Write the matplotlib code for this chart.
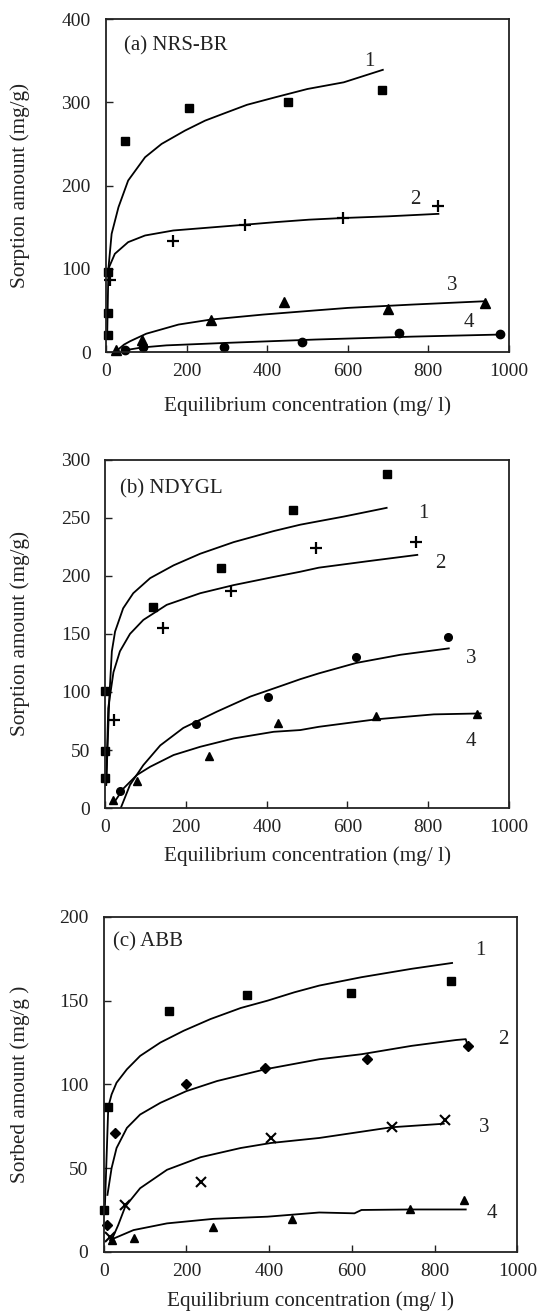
import matplotlib
matplotlib.use("Agg")
import matplotlib.pyplot as plt

# ---- panel (a) NRS-BR ----
a_sq_x = [4, 4, 4, 48, 206, 451, 684]
a_sq_y = [21, 47, 96, 253, 293, 300, 315]
a_pl_x = [10, 167, 346, 587, 825]
a_pl_y = [86, 133, 152, 161, 176]
a_tr_x = [24, 89, 260, 441, 700, 940]
a_tr_y = [3, 14, 39, 60, 51.5, 59]
a_ci_x = [47, 93, 294, 487, 728, 979]
a_ci_y = [2, 6, 6, 12, 22.7, 22]

a_c1_x = [3, 6, 14, 31, 55, 97, 138, 196, 246, 295, 350, 420, 500, 590, 687]
a_c1_y = [20, 100, 142, 174, 206, 234, 250, 266, 278, 287, 297, 306, 316, 324, 339]
a_c2_x = [6, 22, 55, 97, 167, 295, 346, 420, 504, 589, 700, 825]
a_c2_y = [100, 118, 132, 140, 146, 151, 153, 156, 159, 161, 163, 166]
a_c3_x = [30, 45, 60, 100, 180, 260, 390, 520, 600, 760, 940]
a_c3_y = [3, 9, 13, 22, 33, 39, 45, 50, 53, 57, 61]
a_c4_x = [45, 90, 150, 300, 520, 760, 980]
a_c4_y = [2, 5.5, 8, 11, 15, 18.5, 21]

# ---- panel (b) NDYGL ----
b_sq_x = [0, 0, 0, 117, 286, 466, 697]
b_sq_y = [25.6, 49, 100.6, 173, 207, 257, 287.5]
b_pl_x = [21, 142, 311, 523, 771]
b_pl_y = [76, 155, 187, 224, 229]
b_ci_x = [36, 225, 402, 622, 849]
b_ci_y = [15, 72, 96, 130, 147.5]
b_tr_x = [18, 78, 256, 428, 670, 922]
b_tr_y = [7, 23, 45, 73, 79, 81]

b_c1_x = [2, 10, 16, 24, 44, 69, 111, 169, 235, 318, 417, 483, 529, 591, 697]
b_c1_y = [20, 97, 135, 152, 172, 185, 198, 209, 219, 229, 238.5, 244, 247, 251, 258.5]
b_c2_x = [2, 7, 20, 36, 61, 94, 152, 235, 318, 417, 483, 529, 649, 773]
b_c2_y = [20, 86, 117, 135, 150, 162, 175, 185, 192, 199, 203.5, 207, 212.5, 218]
b_c3_x = [38, 61, 94, 136, 193, 276, 359, 442, 483, 529, 622, 731, 851]
b_c3_y = [0, 20, 37, 54, 69, 83, 96, 106, 111, 116, 125, 132, 137.5]
b_c4_x = [20, 45, 78, 111, 169, 235, 318, 417, 483, 529, 670, 814, 930]
b_c4_y = [4, 17, 28.5, 35.6, 45.7, 52.8, 60, 65.7, 67.2, 70, 76.4, 80.7, 81.5]

# ---- panel (c) ABB ----
c_sq_x = [0, 11, 157, 347, 598, 840]
c_sq_y = [25, 86.5, 143.6, 153.6, 154.8, 161.5]
c_di_x = [9, 27, 200, 389, 637, 881]
c_di_y = [16, 71, 100.5, 109.5, 115, 123]
c_cr_x = [15, 52, 236, 404, 696, 824]
c_cr_y = [9, 28, 42, 67.7, 74.7, 79]
c_tr_x = [19, 72, 265, 454, 741, 872]
c_tr_y = [7, 8.5, 15, 19.7, 25.3, 31]

c_c1_x = [3, 11, 19, 31, 56, 88, 137, 193, 258, 331, 396, 461, 521, 623, 744, 842]
c_c1_y = [28, 86.5, 94, 101, 109, 117, 125, 132, 139, 145.6, 150, 155, 159, 164, 169, 172.5]
c_c2_x = [9, 19, 31, 56, 88, 137, 200, 274, 390, 521, 623, 744, 852, 875, 880]
c_c2_y = [34, 50, 62, 74, 82, 89, 96, 102, 109, 115, 118, 123, 126.5, 127, 123]
c_c3_x = [19, 35, 52, 88, 153, 234, 331, 404, 521, 696, 822]
c_c3_y = [7, 16, 27, 38, 49, 56.5, 62, 65, 68, 74.4, 76.5]
c_c4_x = [15, 72, 153, 265, 396, 521, 606, 623, 741, 875]
c_c4_y = [7, 13, 17, 19.7, 21, 23.5, 23, 25, 25.3, 25.3]

xlabel = "Equilibrium concentration (mg/ l)"

plt.rcParams['font.family'] = ['Liberation Serif', 'DejaVu Serif']

fig = plt.figure(figsize=(5.38, 13.14), dpi=100)
ax1 = fig.add_axes([0.197, 0.7321, 0.749, 0.2534])
ax2 = fig.add_axes([0.1959, 0.385, 0.750, 0.2652])
ax3 = fig.add_axes([0.1928, 0.0473, 0.769, 0.2549])

ms = 6
lw = 1.3
k = 'black'
tc = '#222222'


def style(ax, ymax, ystep, ylabel, xlab_y, ylab_x):
    ax.set_xlim(0, 1000)
    ax.set_ylim(0, ymax)
    ax.set_xticks(range(0, 1001, 200))
    ax.set_yticks(range(0, ymax + 1, ystep))
    ax.tick_params(direction='in', length=5, width=1, labelsize=14,
                   top=False, right=False, colors=tc)
    ax.tick_params(axis='y', pad=11)
    ax.tick_params(axis='x', pad=8)
    for s in ax.spines.values():
        s.set_linewidth(1.3)
        s.set_color(tc)
    ax.set_xlabel(xlabel, fontsize=15.3, color=tc)
    ax.set_ylabel(ylabel, fontsize=15.3, color=tc)
    ax.xaxis.set_label_coords(0.5, xlab_y)
    ax.yaxis.set_label_coords(ylab_x, 0.5)


# panel a
ax1.plot(a_c1_x, a_c1_y, color=k, lw=lw)
ax1.plot(a_c2_x, a_c2_y, color=k, lw=lw)
ax1.plot(a_c3_x, a_c3_y, color=k, lw=lw)
ax1.plot(a_c4_x, a_c4_y, color=k, lw=lw)
ax1.plot(a_sq_x, a_sq_y, 's', color=k, ms=ms, clip_on=False)
ax1.plot(a_pl_x, a_pl_y, '+', color=k, ms=8, mew=1.6, clip_on=False)
ax1.plot(a_tr_x, a_tr_y, '^', color=k, ms=ms + 0.5, clip_on=False)
ax1.plot(a_ci_x, a_ci_y, 'o', color=k, ms=ms, clip_on=False)
for t, x, y in [("1", 653, 349), ("2", 768, 183), ("3", 860, 80), ("4", 900, 35)]:
    ax1.text(x, y, t, fontsize=15, ha='center', va='center', color=tc)
ax1.text(44, 368, "(a) NRS-BR", fontsize=15, ha='left', va='center', color=tc)
style(ax1, 400, 100, "Sorption amount (mg/g)", -0.132, -0.189)

# panel b
ax2.plot(b_c1_x, b_c1_y, color=k, lw=lw)
ax2.plot(b_c2_x, b_c2_y, color=k, lw=lw)
ax2.plot(b_c3_x, b_c3_y, color=k, lw=lw)
ax2.plot(b_c4_x, b_c4_y, color=k, lw=lw)
ax2.plot(b_sq_x, b_sq_y, 's', color=k, ms=ms - 0.5, clip_on=False)
ax2.plot(b_pl_x, b_pl_y, '+', color=k, ms=8, mew=1.6, clip_on=False)
ax2.plot(b_ci_x, b_ci_y, 'o', color=k, ms=ms - 0.5, clip_on=False)
ax2.plot(b_tr_x, b_tr_y, '^', color=k, ms=ms, clip_on=False)
for t, x, y in [("1", 789, 254), ("2", 829, 211), ("3", 907, 129), ("4", 905, 57)]:
    ax2.text(x, y, t, fontsize=15, ha='center', va='center', color=tc)
ax2.text(37, 275, "(b) NDYGL", fontsize=15, ha='left', va='center', color=tc)
style(ax2, 300, 50, "Sorption amount (mg/g)", -0.11, -0.187)

# panel c
ax3.plot(c_c1_x, c_c1_y, color=k, lw=lw)
ax3.plot(c_c2_x, c_c2_y, color=k, lw=lw)
ax3.plot(c_c3_x, c_c3_y, color=k, lw=lw)
ax3.plot(c_c4_x, c_c4_y, color=k, lw=lw)
ax3.plot(c_sq_x, c_sq_y, 's', color=k, ms=ms - 0.5, clip_on=False)
ax3.plot(c_di_x, c_di_y, 'D', color=k, ms=ms - 1, clip_on=False)
ax3.plot(c_cr_x, c_cr_y, 'x', color=k, ms=7, mew=1.5, clip_on=False)
ax3.plot(c_tr_x, c_tr_y, '^', color=k, ms=ms, clip_on=False)
for t, x, y in [("1", 910, 180), ("2", 967, 127), ("3", 920, 74), ("4", 937, 23)]:
    ax3.text(x, y, t, fontsize=15, ha='center', va='center', color=tc)
ax3.text(23, 185, "(c) ABB", fontsize=15, ha='left', va='center', color=tc)
style(ax3, 200, 50, "Sorbed amount (mg/g )", -0.119, -0.178)

fig.savefig("out.png", dpi=100)
